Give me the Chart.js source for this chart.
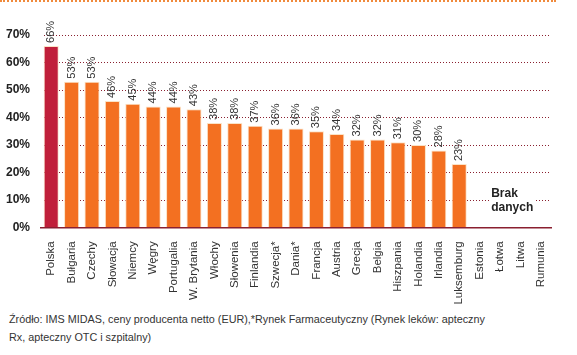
<!DOCTYPE html>
<html>
<head>
<meta charset="utf-8">
<script src="https://cdn.jsdelivr.net/npm/chart.js@4/dist/chart.umd.min.js"></script>
<style>
  html, body { margin: 0; padding: 0; background: #fff; }
  #wrap { position: relative; width: 577px; height: 355px; overflow: hidden; }
  #topline { position: absolute; left: 0; top: 0; width: 556px; border-top: 2px dotted #f08a3c; }
  #cv { position: absolute; left: 0; top: 0; }
  #note { position: absolute; left: 9px; top: 310px; font-family: "Liberation Sans", Arial, sans-serif;
          font-size: 10.8px; line-height: 18px; color: #333; width: 560px; }
</style>
</head>
<body>
<div id="wrap">
  <canvas id="cv" width="577" height="308"></canvas>
  <div id="topline"></div>
  <div id="note">Źródło: IMS MIDAS, ceny producenta netto (EUR),*Rynek Farmaceutyczny (Rynek leków: apteczny<br>Rx, apteczny OTC i szpitalny)</div>
</div>
<script>
const categories = ["Polska","Bułgaria","Czechy","Słowacja","Niemcy","Węgry","Portugalia","W. Brytania","Włochy","Słowenia","Finlandia","Szwecja*","Dania*","Francja","Austria","Grecja","Belgia","Hiszpania","Holandia","Irlandia","Luksemburg","Estonia","Łotwa","Litwa","Rumunia"];
const values = [66,53,53,46,45,44,44,43,38,38,37,36,36,35,34,32,32,31,30,28,23,null,null,null,null];
const yTicks = [0,10,20,30,40,50,60,70];
const noDataText = ["Brak","danych"];

const barColors = categories.map((c,i)=> i===0 ? '#c01f3a' : '#f37021');

const gridPlugin = {
  id: 'dottedGrid',
  beforeDatasetsDraw(chart) {
    const ctx = chart.ctx, ys = chart.scales.y, a = chart.chartArea;
    ctx.save();
    ctx.strokeStyle = '#8a2030';
    ctx.lineWidth = 1;
    ctx.setLineDash([1, 2]);
    yTicks.forEach(v => {
      if (v === 0) return;
      const y = Math.round(ys.getPixelForValue(v)) + 0.5;
      ctx.beginPath();
      ctx.moveTo(a.left + 3, y);
      ctx.lineTo(a.right, y);
      ctx.stroke();
    });
    ctx.restore();
  }
};

const labelPlugin = {
  id: 'labels',
  afterDatasetsDraw(chart) {
    const ctx = chart.ctx;
    const meta = chart.getDatasetMeta(0);
    ctx.save();
    ctx.font = '11px "Liberation Sans", Arial, sans-serif';
    ctx.fillStyle = '#333';
    meta.data.forEach((el, i) => {
      const v = values[i];
      if (v === null) return;
      ctx.save();
      ctx.translate(el.x, el.y - 3);
      ctx.rotate(-Math.PI/2);
      ctx.textAlign = 'left';
      ctx.textBaseline = 'middle';
      ctx.fillText(v + '%', 0, 0);
      ctx.restore();
    });
    const xs = chart.scales.x, ys = chart.scales.y;
    const mid = (xs.getPixelForValue(21) + xs.getPixelForValue(24)) / 2;
    const left = mid - 19;
    const y10 = ys.getPixelForValue(10);
    ctx.font = 'bold 12px "Liberation Sans", Arial, sans-serif';
    const w = Math.max(ctx.measureText(noDataText[0]).width, ctx.measureText(noDataText[1]).width);
    ctx.fillStyle = '#fff';
    ctx.fillRect(left - 1, y10 - 13, w + 2, 27);
    ctx.fillStyle = '#222';
    ctx.textAlign = 'left';
    ctx.textBaseline = 'middle';
    ctx.fillText(noDataText[0], left, y10 - 6);
    ctx.fillText(noDataText[1], left, y10 + 8);
    ctx.restore();
  }
};

new Chart(document.getElementById('cv'), {
  type: 'bar',
  data: {
    labels: categories,
    datasets: [{
      data: values,
      backgroundColor: barColors,
      borderColor: '#fbe3c6',
      borderWidth: 1,
      barPercentage: 0.74,
      categoryPercentage: 1.0
    }]
  },
  options: {
    responsive: false,
    animation: false,
    layout: { padding: { top: 35, right: 26, left: 0, bottom: 0 } },
    plugins: { legend: { display: false }, tooltip: { enabled: false } },
    scales: {
      x: {
        grid: { display: false },
        border: { display: true, color: '#8a1f30', width: 1.5 },
        ticks: {
          autoSkip: false, maxRotation: 90, minRotation: 90, padding: 6,
          color: '#333', font: { family: '"Liberation Sans", Arial, sans-serif', size: 11.5 }
        },
        afterFit(s) { s.height = 80.7; }
      },
      y: {
        min: 0, max: 70,
        afterBuildTicks(s) { s.ticks = yTicks.map(v => ({ value: v })); },
        grid: { display: false },
        border: { display: false },
        ticks: {
          padding: 3, color: '#222',
          font: { family: '"Liberation Sans", Arial, sans-serif', size: 12, weight: 'bold' },
          callback: (v) => v + '%'
        },
        afterFit(s) { s.width = 41; }
      }
    }
  },
  plugins: [gridPlugin, labelPlugin]
});
</script>
</body>
</html>
